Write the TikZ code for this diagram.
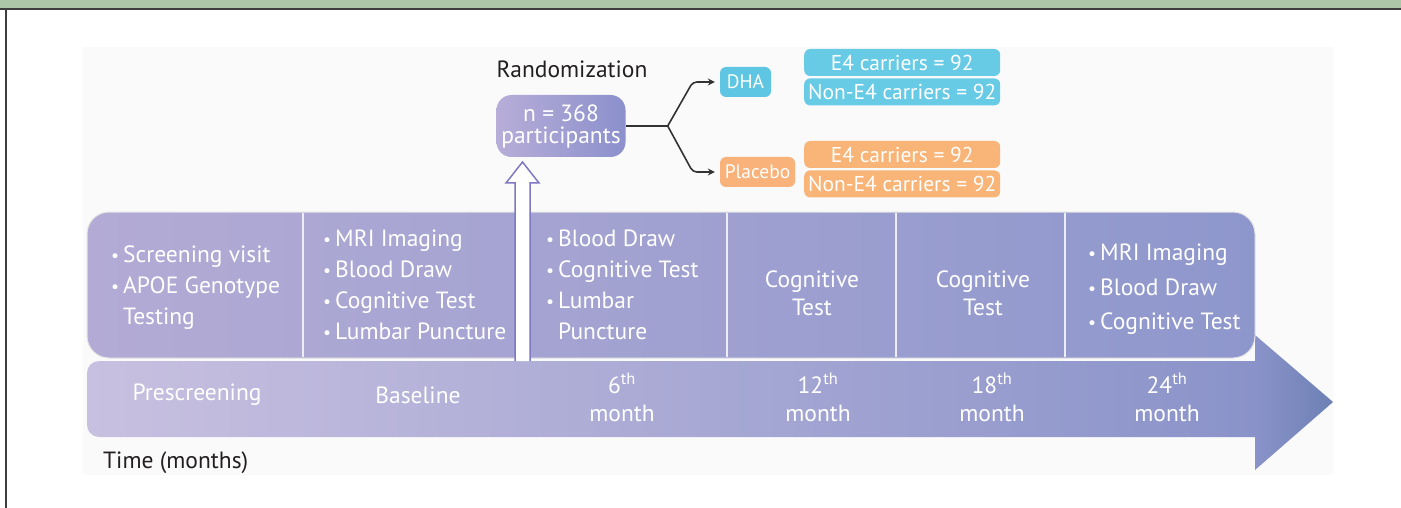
\documentclass[tikz,border=0pt]{standalone}
\usepackage{fontspec}
\setmainfont{PT Sans}
\newfontfamily\bulfont{DejaVu Sans}
\usetikzlibrary{arrows.meta, positioning, calc}

\definecolor{framegreen}{HTML}{ACC7A7}
\definecolor{framedark}{HTML}{3C3F3C}
\definecolor{bandleft}{HTML}{C8C0E0}
\definecolor{bandmid}{HTML}{8A93C9}
\definecolor{bandtip}{HTML}{6D80B4}
\definecolor{boxleft}{HTML}{B3ABD5}
\definecolor{boxright}{HTML}{8E97CC}
\definecolor{randleft}{HTML}{B7ADD8}
\definecolor{randright}{HTML}{8B90CC}
\definecolor{arrowpurple}{HTML}{7F78C2}
\definecolor{dhacyan}{HTML}{5EC6E2}
\definecolor{countcyan}{HTML}{68CBE6}
\definecolor{placeorange}{HTML}{F8B27A}
\definecolor{countorange}{HTML}{F9B477}
\definecolor{textdark}{HTML}{231F20}

\pgfdeclarehorizontalshading{timeband}{100bp}{color(0bp)=(bandleft); color(25bp)=(bandleft); color(71.9bp)=(bandmid); color(75bp)=(bandtip); color(100bp)=(bandtip)}
\pgfdeclarehorizontalshading{visitband}{100bp}{color(0bp)=(boxleft); color(25bp)=(boxleft); color(75bp)=(boxright); color(100bp)=(boxright)}

\newcommand{\bul}{\makebox[13pt][l]{\raisebox{0pt}{\bulfont\fontsize{17}{17}\selectfont •}}}
\newcommand{\bulgap}{\hspace*{13pt}}

\begin{document}
\begin{tikzpicture}[x=1pt, y=-1pt,
    font=\fontsize{23.5}{31}\selectfont,
    cellline/.style = {draw=white!78!boxleft, line width=1.2pt},
    celltext/.style = {text=white, align=left, anchor=west, inner sep=0pt},
    cellmid/.style = {text=white, align=center, inner sep=0pt, font=\fontsize{23.5}{28}\selectfont},
    monthtext/.style = {text=white, align=center, inner sep=0pt, font=\fontsize{23.5}{28}\selectfont},
    randbox/.style = {rectangle, rounded corners=15pt, left color=randleft, right color=randright, text=white, align=center, minimum width=129pt, minimum height=62pt, inner sep=0pt, font=\fontsize{23.5}{22}\selectfont},
    armbox/.style = {rectangle, rounded corners=6pt, text=white, inner sep=0pt, minimum height=30pt, font=\fontsize{19.5}{19.5}\selectfont},
    countbox/.style = {rectangle, rounded corners=6pt, text=white, inner sep=0pt, minimum width=196pt, minimum height=27pt, anchor=west, font=\fontsize{21.5}{21.5}\selectfont},
    splitarrow/.style = {draw=black!80, line width=1.6pt, rounded corners=4pt, -{Stealth[length=7pt,width=7pt]}, shorten >=5pt}
  ]
  \useasboundingbox (0,0) rectangle (1401,508);

  % frame
  \fill[white] (0,0) rectangle (1401,508);
  \fill[framegreen] (0,0) rectangle (1401,8);
  \draw[framedark, line width=2pt] (0,9) -- (1401,9);
  \draw[framedark, line width=1.5pt] (6,9) -- (6,508);
  \fill[black!2] (83,47) rectangle (1333,475);

  % time arrow
  \shade[shading=timeband] (1255,335) -- (1333,402) -- (1255,470) -- (1255,437)
    {[rounded corners=12pt] -- (87,437) -- (87,361)} -- (1255,361) -- cycle;

  % visit boxes
  \shade[shading=visitband, draw=black!10, line width=1pt, rounded corners=22pt] (87,212) rectangle (1255,358);
  \foreach \xcell in {303,727,896,1065}
    \draw[cellline] (\xcell,213) -- (\xcell,357);

  \node[celltext] (prescrText) at (110,288) {\bul Screening visit\\\bul APOE Genotype\\\bulgap Testing};
  \node[celltext] (baseText) at (322,284.5) {\bul MRI Imaging\\\bul Blood Draw\\\bul Cognitive Test\\\bul Lumbar Puncture};
  \node[celltext] (sixText) at (545,284.5) {\bul Blood Draw\\\bul Cognitive Test\\\bul Lumbar\\\bulgap Puncture};
  \node[cellmid] (twelveText) at (812,293) {Cognitive\\Test};
  \node[cellmid] (eighteenText) at (983,293) {Cognitive\\Test};
  \node[celltext, font=\fontsize{23.5}{34.5}\selectfont] (twentyfourText) at (1087,289.5) {\bul MRI Imaging\\\bul Blood Draw\\\bul Cognitive Test};

  % months
  \node[monthtext] (prescr) at (197,395) {Prescreening};
  \node[monthtext] (baseline) at (418,395) {Baseline};
  \node[monthtext] (six) at (622,397) {6\textsuperscript{th}\\month};
  \node[monthtext] (twelve) at (818,397) {12\textsuperscript{th}\\month};
  \node[monthtext] (eighteen) at (992,397) {18\textsuperscript{th}\\month};
  \node[monthtext] (twentyfour) at (1167,397) {24\textsuperscript{th}\\month};

  \node[anchor=west, text=textdark, inner sep=0pt] (timelabel) at (103,463) {Time (months)};

  % randomization
  \node[text=textdark, inner sep=0pt] (randlabel) at (572,69) {Randomization};
  \node[randbox] (rand) at (561,126) {n = 368\\participants};
  \draw[draw=arrowpurple, fill=white, line width=1.5pt] (515,361) -- (515,183) -- (506,183) -- (522.5,162) -- (539,183) -- (530,183) -- (530,361);

  \node[armbox, fill=dhacyan, minimum width=51pt] (dha) at (745.5,82) {DHA};
  \node[armbox, fill=placeorange, minimum width=75pt] (placebo) at (757.5,172) {Placebo};

  \node[countbox, fill=countcyan] (dhaE4) at (804,62.5) {E4 carriers = 92};
  \node[countbox, fill=countcyan, below=2pt of dhaE4] (dhaNonE4) {Non-E4 carriers = 92};
  \node[countbox, fill=countorange] (placeboE4) at (804,154.5) {E4 carriers = 92};
  \node[countbox, fill=countorange, below=2pt of placeboE4] (placeboNonE4) {Non-E4 carriers = 92};

  \coordinate (split) at ($(rand.east)+(42,0)$);
  \draw[draw=black!80, line width=1.6pt] (rand.east) -- (split);
  \draw[splitarrow] (split) -- ($(dha.west)+(-27,0)$) -- (dha.west);
  \draw[splitarrow] (split) -- ($(placebo.west)+(-27,0)$) -- (placebo.west);
\end{tikzpicture}
\end{document}
